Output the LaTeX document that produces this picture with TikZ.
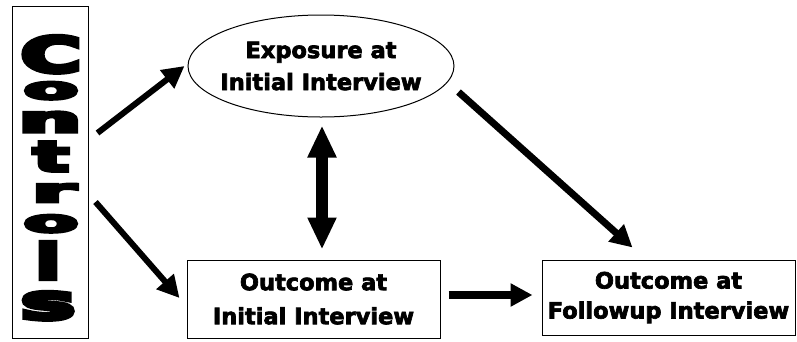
\documentclass[tikz,border=0pt]{standalone}
\usepackage{fontspec}
\setmainfont{DejaVu Sans}
\newfontfamily\lblfont{DejaVu Sans}[BoldFeatures={FakeBold=3}]
\newfontfamily\ctlfont{DejaVu Sans}[BoldFeatures={FakeBold=9}]
\usepackage{graphicx}
\usetikzlibrary{arrows.meta,shapes.geometric,calc}
\newcommand\ctlletter[3]{\resizebox{#1pt}{#2pt}{\ctlfont\bfseries #3}}
\begin{document}
\begin{tikzpicture}[x=1pt,y=-1pt,
  frame/.style={draw=black, line width=1pt, inner sep=0pt},
  lbl/.style={align=center, font=\lblfont\bfseries\fontsize{22.5}{32}\selectfont},
  ltr/.style={inner sep=0pt, anchor=base},
  fat/.style={line width=#1, -{Triangle[length=22pt,width=22pt]}},
  dbl/.style={line width=12pt, {Triangle[length=32pt,width=27pt]}-{Triangle[length=32pt,width=27pt]}}
]
\useasboundingbox (0,0) rectangle (797,341);

% Controls box
\node[frame, minimum width=76pt, minimum height=332pt] (ctl) at (50,172) {};
\node[ltr] (l1) at (51,72)  {\ctlletter{60}{36}{C}};
\node[ltr] (l2) at (51,99) {\ctlletter{54}{17}{o}};
\node[ltr] (l3) at (50,132) {\ctlletter{62}{20}{n}};
\node[ltr] (l4) at (51,171) {\ctlletter{35}{29}{t}};
\node[ltr] (l5) at (54,202) {\ctlletter{43}{18}{r}};
\node[ltr] (l6) at (51,232) {\ctlletter{54}{17}{o}};
\node[ltr] (l7) at (48,279) {\ctlletter{24}{37}{l}};
\node[ltr] (l8) at (48,319) {\ctlletter{54}{27}{s}};

% Exposure ellipse
\node[frame, ellipse, minimum width=266pt, minimum height=102pt] (exp) at (321,66) {};
\node[lbl, inner sep=0pt] (expt) at (exp.center) {Exposure at\\Initial Interview};

% Outcome boxes
\node[frame, minimum width=253pt, minimum height=78pt, lbl,
  font=\lblfont\bfseries\fontsize{22.5}{34}\selectfont] (oi) at (313.5,299)
  {Outcome at\\Initial Interview};
\node[frame, minimum width=253pt, minimum height=75pt, lbl,
  font=\lblfont\bfseries\fontsize{22.5}{30}\selectfont] (fu) at (668.5,297.5)
  {Outcome at\\Followup Interview};

% Connectors
\draw[fat=6pt] ([shift={(9pt,39pt)}]ctl.east) -- ([xshift=-3pt]exp.west);
\draw[fat=6pt] ([shift={(7pt,-30pt)}]ctl.east) -- ([shift={(-7pt,1pt)}]oi.west);
\draw[fat=7pt] ([shift={(4pt,-26pt)}]exp.east) -- ([shift={(-36pt,12pt)}]fu.north);
\draw[fat=8pt] ([shift={(8pt,4pt)}]oi.east) -- ([shift={(-9pt,2.5pt)}]fu.west);
\draw[dbl] ($(exp.south)+(1,8)$) -- ($(exp.south |- oi.north)+(1,-10)$);
\end{tikzpicture}
\end{document}
